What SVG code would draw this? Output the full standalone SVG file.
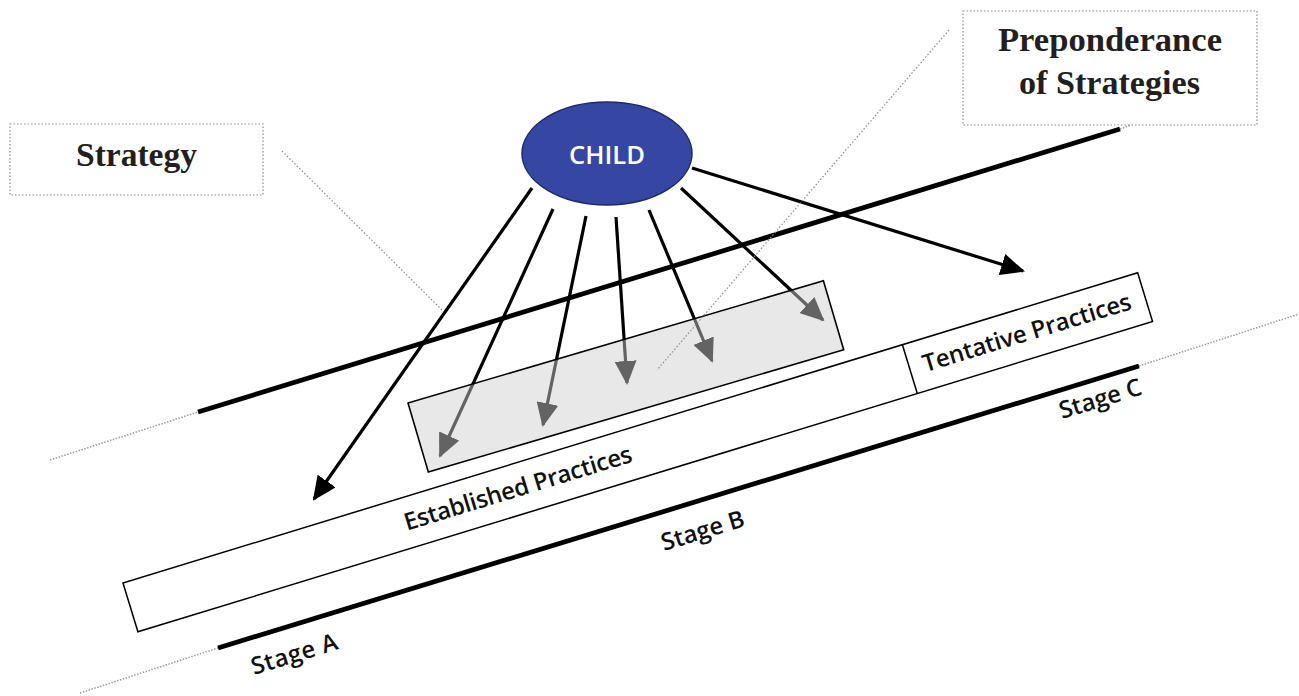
<svg xmlns="http://www.w3.org/2000/svg" width="1299" height="696" viewBox="0 0 1299 696">
  <style>
    .dot { fill: none; stroke: #8c8c8c; stroke-width: 1.2; stroke-dasharray: 1.5 2; }
    .ext { fill: none; stroke: #a0a0a0; stroke-width: 1.6; stroke-dasharray: 1.5 1.5; }
    .thick { fill: none; stroke: #000; stroke-width: 4.8; }
    .arrow { fill: none; stroke: #000; stroke-width: 3.2; marker-end: url(#head); }
    .label { font-family: "Open Sans", "Liberation Sans", sans-serif; font-size: 24px; font-weight: 600; fill: #111; }
    .title { font-family: "Liberation Serif", "DejaVu Serif", serif; font-weight: bold; font-size: 33px; fill: #231f20; text-anchor: middle; }
  </style>
  <defs>
    <marker id="head" markerUnits="userSpaceOnUse" markerWidth="24" markerHeight="22" refX="22" refY="11" orient="auto">
      <path d="M0,0 L24,11 L0,22 z" fill="#000"/>
    </marker>
  </defs>

  <rect width="1299" height="696" fill="#fff"/>

  <!-- strategy line with its dotted continuation -->
  <g id="strategy-line">
    <line class="ext" x1="50" y1="460" x2="198" y2="412"/>
    <line class="thick" x1="198" y1="412" x2="1120" y2="129"/>
    <line class="ext" x1="1120" y1="129" x2="1131" y2="125"/>
  </g>

  <!-- stage line with its dotted continuation -->
  <g id="stage-line">
    <line class="ext" x1="80" y1="693" x2="218" y2="648"/>
    <line class="thick" x1="218" y1="648" x2="1139" y2="366"/>
    <line class="ext" x1="1139" y1="366" x2="1299" y2="314"/>
  </g>

  <!-- practices band -->
  <g id="practices" transform="translate(123,583) rotate(-17)">
    <rect x="0" y="0" width="1061" height="51" fill="#fff" stroke="#000" stroke-width="1.5"/>
    <line x1="815" y1="0" x2="815" y2="51" stroke="#000" stroke-width="1.5"/>
    <text id="established" class="label" x="287" y="33" textLength="237" lengthAdjust="spacing">Established Practices</text>
    <text id="tentative" class="label" x="829" y="33" textLength="217" lengthAdjust="spacing">Tentative Practices</text>
  </g>

  <!-- stage labels -->
  <g id="stage-a"><text class="label" transform="translate(254,675) rotate(-17)" textLength="89" lengthAdjust="spacing">Stage A</text></g>
  <g id="stage-b"><text class="label" transform="translate(664,551) rotate(-17)" textLength="86" lengthAdjust="spacing">Stage B</text></g>
  <g id="stage-c"><text class="label" transform="translate(1062,419) rotate(-17)" textLength="85" lengthAdjust="spacing">Stage C</text></g>

  <!-- connectors from the child -->
  <g id="connectors">
    <line class="arrow" x1="532" y1="188" x2="314" y2="499"/>
    <line class="arrow" x1="553" y1="209" x2="440" y2="456"/>
    <line class="arrow" x1="586" y1="216" x2="543" y2="425"/>
    <line class="arrow" x1="616" y1="217" x2="627" y2="383"/>
    <line class="arrow" x1="649" y1="210" x2="712" y2="361"/>
    <line class="arrow" x1="681" y1="188" x2="823" y2="320"/>
    <line class="arrow" x1="692" y1="168" x2="1023" y2="271"/>
  </g>

  <!-- translucent preponderance zone over the arrow tips -->
  <g id="zone">
    <rect transform="translate(408,403) rotate(-16.4)" x="0" y="0" width="433" height="72" fill="#cfcfcf" fill-opacity="0.48" stroke="#000" stroke-width="1.6"/>
  </g>

  <!-- callout leaders -->
  <g id="leaders">
    <line class="dot" x1="282" y1="151" x2="442" y2="310"/>
    <line class="dot" x1="949" y1="30" x2="657" y2="370"/>
  </g>

  <!-- child node -->
  <g id="child">
    <ellipse cx="607" cy="153.5" rx="85" ry="51.5" fill="#3547a3" stroke="#1c2a6b" stroke-width="1.5"/>
    <text x="607" y="164" text-anchor="middle" font-family="Open Sans, Liberation Sans, sans-serif" font-size="25" font-weight="600" fill="#fff" textLength="76" lengthAdjust="spacingAndGlyphs">CHILD</text>
  </g>

  <!-- callout boxes -->
  <g id="strategy-callout">
    <rect class="dot" x="10" y="124" width="253" height="71"/>
    <text class="title" x="136.5" y="166" textLength="121" lengthAdjust="spacingAndGlyphs">Strategy</text>
  </g>
  <g id="preponderance-callout">
    <rect class="dot" x="963" y="11" width="294" height="114"/>
    <text class="title" x="1110" y="51" textLength="224" lengthAdjust="spacingAndGlyphs">Preponderance</text>
    <text class="title" x="1109.5" y="94" textLength="181" lengthAdjust="spacingAndGlyphs">of Strategies</text>
  </g>
</svg>
